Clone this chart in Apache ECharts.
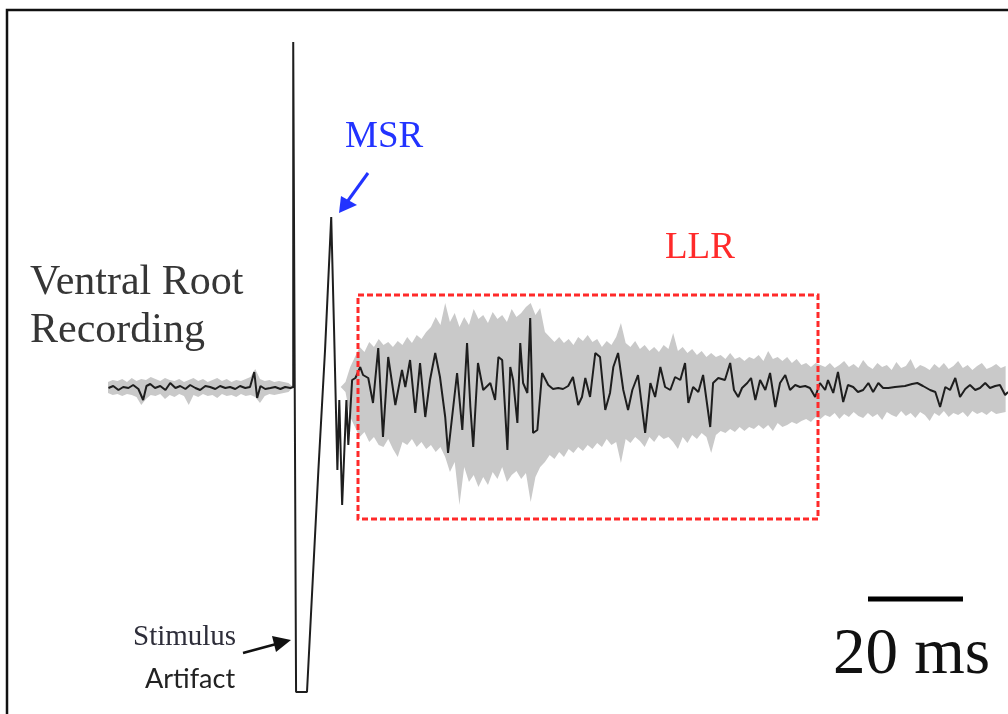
<!DOCTYPE html>
<html>
<head>
<meta charset="utf-8">
<script src="https://cdn.jsdelivr.net/npm/echarts@6/dist/echarts.min.js"></script>
<style>
html,body{margin:0;padding:0;background:#fff;}
#chart{width:1008px;height:714px;}
</style>
</head>
<body>
<div id="chart"></div>
<script>
// Time in ms (stimulus at 0), amplitude in arbitrary units (baseline 0)
const preStimT = [-38.9,-37.9,-36.8,-35.8,-34.7,-33.7,-32.6,-31.6,-30.9,-30.1,-29.1,-28.0,-26.9,-25.9,-24.8,-23.8,-22.7,-21.7,-20.6,-19.6,-18.5,-17.5,-16.4,-15.4,-14.3,-13.3,-12.2,-11.2,-10.1,-9.1,-8.2,-7.6,-6.9,-5.9,-4.8,-3.8,-2.7,-1.7,-0.6,0];
const preStimV = [-1,1,-3,0,-1,2,-2,-13,1,3,-1,1,-3,4,-1,1,-2,2,-1,-3,1,0,-2,1,-1,0,-2,1,-1,0,15,-11,1,-2,-1,0,-2,0,-1,0];

const artifactT = [0,0.4,0.6,2.9,5.3,6.7,8.0,8.6,9.3,9.7,10.3,11.2,11.6,12.4,13.1];
const artifactV = [345,345,-305,-305,-83,37,170,57,-83,-13,-118,-13,-58,7,9];

const llrT = [13.5,14.1,14.7,15.8,16.8,17.9,18.9,20.0,21.5,22.9,23.6,24.6,25.7,26.7,27.8,28.8,29.9,30.9,32.0,32.6,34.5,35.6,36.6,37.3,37.9,38.9,40.0,41.5,42.5,43.2,44.0,45.1,45.7,46.3,47.2,47.8,48.4,49.3,49.9,50.5,51.4,52.4,53.7,54.7,55.8,56.8,57.9,58.9,60.0,60.8,61.5,62.5,63.6,64.6,65.7,66.7,67.4,68.4,69.5,70.5,71.4,72.6,74.1,75.2,76.2,77.3,78.3,79.4,80.4,81.5,82.5,83.2,84.2,85.3,86.3,87.8,88.4,89.5,90.9,92.0,92.8,93.7,94.5,95.6,96.4,97.3,98.3,99.4,100.4,101.5,102.5,103.6,104.6,105.7,106.7,107.8,108.8,109.9,110.9,112.0,112.6,113.7,114.7,115.8,116.8,117.9,118.9,120.0,121.1,122.1,123.2,124.2,125.3,126.7,128.8,130.3,131.4,132.6,134.1,135.2,136.2,137.3,138.3,139.4,140.4,141.5,142.5,143.6,144.6,145.7,146.7,147.8,148.8,149.9,150.5];
const llrV = [7,20,12,9,-16,39,-50,30,-18,17,0,27,-26,24,-30,7,34,10,-30,-66,14,-43,44,-20,-60,24,-3,4,-13,30,27,-63,20,7,-36,44,4,-6,69,-46,-43,14,2,-2,-1,-2,1,10,-18,-10,9,-10,34,30,-23,-6,20,34,-3,-23,-3,12,-46,4,-10,20,0,-3,10,7,24,-16,0,-5,12,-40,4,9,7,24,-3,-10,-1,4,9,-13,7,-3,14,-20,4,12,-3,2,0,1,-1,-10,4,-3,7,-6,15,-15,2,0,-5,-3,4,-5,4,-1,-1,0,1,3,4,1,-3,-5,-20,0,-3,9,-10,-2,2,-3,-1,4,-1,1,2,-8,-5];

// Spread of individual sweeps (grey envelope), sampled every 1 ms from -39 ms
const bandStartMs = -39;
const bandStepMs = 1;
const bandHi = [5,7,6,8,5,9,6,8,7,10,8,6,9,7,6,8,5,7,9,6,8,5,7,9,6,8,5,7,6,8,10,18,8,6,7,5,6,5,4,
0,0,0,0,0,0,0,0,0,0,0,
5,20,30,40,35,45,40,48,42,45,
40,46,42,50,44,52,48,55,60,70,
62,84,65,74,60,70,62,78,68,72,
64,75,68,72,65,78,70,74,80,84,
72,79,55,50,45,50,44,48,42,50,
46,52,45,48,40,46,42,50,64,44,
40,46,38,42,36,40,35,42,38,54,
36,40,34,38,32,36,30,34,30,32,
28,34,28,30,26,30,28,32,26,36,
28,30,26,30,24,28,22,24,20,24,
22,20,24,19,22,26,20,23,19,27,
21,18,24,20,22,17,25,19,21,28,
18,22,20,17,23,19,24,18,21,26,
19,22,17,21,24,18,20,23,19,21];
const bandLo = [-6,-8,-7,-9,-7,-8,-10,-18,-12,-8,-9,-7,-12,-8,-10,-7,-9,-18,-8,-10,-7,-9,-8,-11,-7,-9,-8,-10,-7,-9,-8,-10,-16,-9,-7,-8,-7,-6,-5,
0,0,0,0,0,0,0,0,0,0,0,
-5,-30,-40,-50,-45,-55,-50,-58,-60,-52,
-62,-70,-55,-58,-52,-60,-55,-62,-58,-65,
-60,-70,-85,-75,-118,-80,-95,-88,-100,-90,
-98,-85,-92,-80,-95,-88,-84,-92,-86,-115,
-90,-80,-75,-68,-72,-65,-70,-62,-66,-60,
-64,-58,-62,-56,-60,-52,-58,-55,-76,-52,
-56,-50,-54,-60,-50,-55,-48,-52,-50,-55,
-62,-50,-56,-48,-52,-46,-50,-66,-48,-44,
-46,-42,-45,-40,-44,-40,-42,-38,-42,-38,
-44,-36,-40,-38,-35,-37,-34,-32,-35,-30,
-32,-28,-30,-26,-32,-27,-30,-25,-29,-31,
-26,-30,-27,-33,-25,-28,-30,-24,-29,-26,
-31,-25,-28,-34,-26,-29,-24,-30,-26,-28,
-25,-30,-24,-27,-25,-28,-24,-27,-26,-25];

const scaleBarMs = 20;

const chart = echarts.init(document.getElementById('chart'), null, {renderer:'canvas'});

const pairs = (ts, vs) => ts.map((t, i) => [t, vs[i]]);
const meanData = pairs(preStimT, preStimV).concat(pairs(artifactT, artifactV), pairs(llrT, llrV));

const serif = '"Liberation Serif", "Times New Roman", serif';

chart.setOption({
  animation: false,
  backgroundColor: '#ffffff',
  grid: {left: 108, right: 0, top: 0, bottom: 0},
  xAxis: {type: 'value', min: -39, max: 150.5, show: false},
  yAxis: {type: 'value', min: -327, max: 387, show: false},
  series: [
    {
      type: 'custom',
      name: 'sweeps',
      silent: true,
      z: 1,
      data: [[bandStartMs, 0]],
      renderItem: function (params, api) {
        if (params.dataIndex !== 0) return null;
        const top = [], bot = [];
        for (let i = 0; i < bandHi.length; i++) {
          const t = bandStartMs + i * bandStepMs;
          top.push(api.coord([t, bandHi[i]]));
          bot.push(api.coord([t, bandLo[i]]));
        }
        return {
          type: 'polygon',
          shape: {points: top.concat(bot.reverse())},
          style: {fill: '#c9c9c9'}
        };
      }
    },
    {
      type: 'line',
      name: 'mean',
      z: 3,
      data: meanData,
      showSymbol: false,
      lineStyle: {color: '#1e1e1e', width: 2},
      silent: true
    }
  ]
});

const p0 = chart.convertToPixel({gridIndex: 0}, [0, 0]);
const p20 = chart.convertToPixel({gridIndex: 0}, [scaleBarMs, 0]);
const barLen = p20[0] - p0[0];

chart.setOption({
  graphic: [
    {type: 'rect', z: 100, shape: {x: 7, y: 10, width: 1100, height: 800},
     style: {fill: 'none', stroke: '#111', lineWidth: 2.5}},
    {type: 'text', z: 100, style: {text: 'Ventral Root', x: 30, y: 283, font: '42px ' + serif, fill: '#363636', verticalAlign: 'middle'}},
    {type: 'text', z: 100, style: {text: 'Recording', x: 30, y: 331, font: '42px ' + serif, fill: '#363636', verticalAlign: 'middle'}},
    {type: 'text', z: 100, style: {text: 'MSR', x: 345, y: 137, font: '37px ' + serif, fill: '#2233ff', verticalAlign: 'middle'}},
    {type: 'text', z: 100, style: {text: 'LLR', x: 665, y: 248, font: '37px ' + serif, fill: '#ff2a2a', verticalAlign: 'middle'}},
    {type: 'text', z: 100, style: {text: 'Stimulus', x: 133, y: 637, font: '29px ' + serif, fill: '#2e2e3a', verticalAlign: 'middle'}},
    {type: 'text', z: 100, style: {text: 'Artifact', x: 145, y: 679, font: '27px Lato, "Open Sans", sans-serif', fill: '#222', verticalAlign: 'middle'}},
    {type: 'text', z: 100, style: {text: '20 ms', x: 833, y: 656, font: '65px ' + serif, fill: '#111', verticalAlign: 'middle'}},
    // MSR arrow
    {type: 'line', z: 100, shape: {x1: 368, y1: 173, x2: 347, y2: 202}, style: {stroke: '#2233ff', lineWidth: 3}},
    {type: 'polygon', z: 100, shape: {points: [[339, 213], [341, 196], [357, 205]]}, style: {fill: '#2233ff'}},
    // Stimulus arrow
    {type: 'line', z: 100, shape: {x1: 243, y1: 653, x2: 280, y2: 643}, style: {stroke: '#111', lineWidth: 2.5}},
    {type: 'polygon', z: 100, shape: {points: [[291, 640], [272, 636], [276, 652]]}, style: {fill: '#111'}},
    // LLR box
    {type: 'rect', z: 100, shape: {x: 358, y: 295, width: 460, height: 224},
     style: {fill: 'none', stroke: '#ff2a2a', lineWidth: 3, lineDash: [6, 3]}},
    // scale bar
    {type: 'line', z: 100, shape: {x1: 868, y1: 599, x2: 868 + barLen, y2: 599}, style: {stroke: '#000', lineWidth: 5}}
  ]
});
</script>
</body>
</html>
